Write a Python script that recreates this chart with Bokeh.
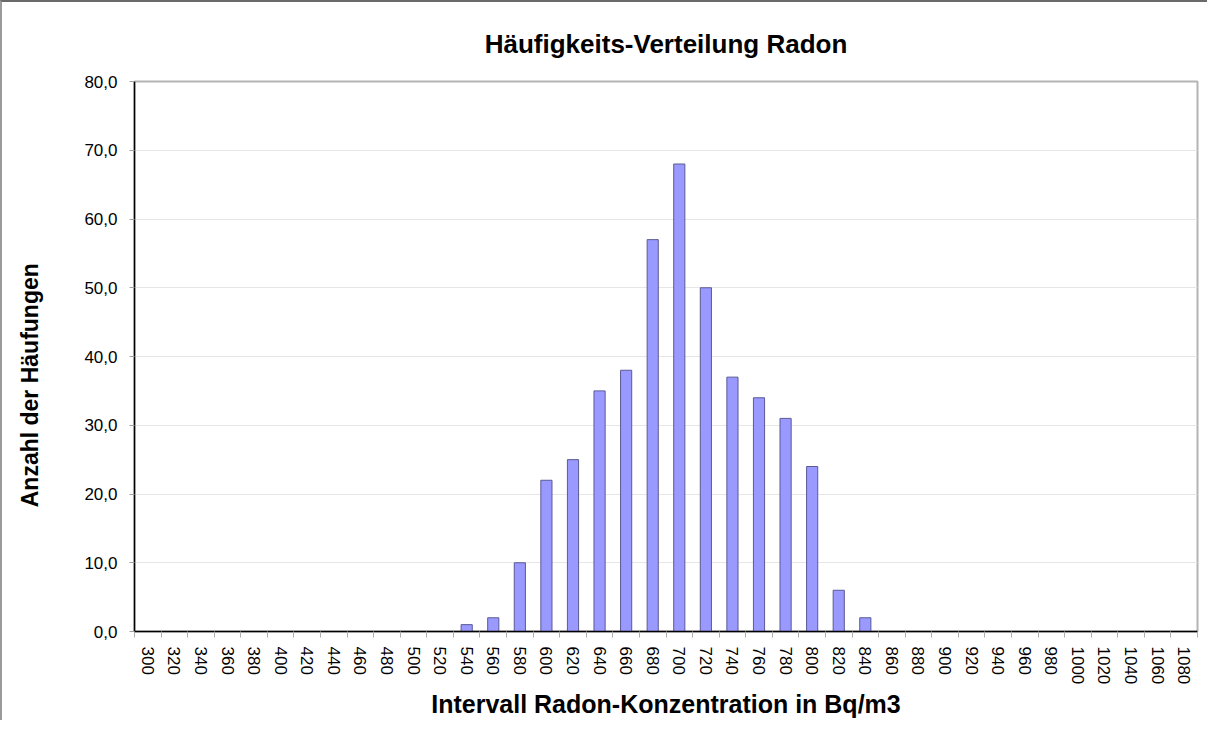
from bokeh.plotting import figure
from bokeh.models import ColumnDataSource, FixedTicker, Range1d
from bokeh.embed import file_html
from bokeh.resources import INLINE

# ---- data ----
categories = [str(v) for v in range(300, 1081, 20)]
counts = [0, 0, 0, 0, 0, 0, 0, 0, 0, 0, 0, 0,
          1, 2, 10, 22, 25, 35, 38, 57, 68, 50, 37, 34, 31, 24, 6, 2,
          0, 0, 0, 0, 0, 0, 0, 0, 0, 0, 0, 0]
y_ticks = [0, 10, 20, 30, 40, 50, 60, 70, 80]
title_text = "Häufigkeits-Verteilung Radon"
x_label = "Intervall Radon-Konzentration in Bq/m3"
y_label = "Anzahl der Häufungen"

FONT = "Liberation Sans"

n = len(categories)
xc = [i + 0.5 for i in range(n)]
src = ColumnDataSource(dict(x=xc, top=counts, cat=categories))

p = figure(width=1207, height=720, output_backend="svg", toolbar_location=None,
           x_range=Range1d(0, n), y_range=Range1d(0, 80),
           min_border_left=132, min_border_right=12, min_border_top=79,
           min_border_bottom=91, title=title_text)
p.styles = {"border-top": "2px solid #6a6a6a", "border-left": "2px solid #9a9a9a"}

p.title.align = "center"
p.title.text_font = FONT
p.title.text_font_size = "26px"
p.title.text_font_style = "bold"
p.title.text_color = "black"
p.title.standoff = 46

p.vbar(x="x", top="top", width=0.42, source=src,
       fill_color="#9999FF", line_color="#5a5a96", line_width=1)

# x axis: labels at centers, tick marks at boundaries
xt = FixedTicker(ticks=xc, minor_ticks=list(range(n + 1)))
p.xaxis.ticker = xt
p.xaxis.major_label_overrides = {x: c for x, c in zip(xc, categories)}
p.xaxis.major_label_orientation = "vertical"
p.xaxis.major_tick_out = 0
p.xaxis.major_tick_in = 0
p.xaxis.minor_tick_out = 6
p.xaxis.minor_tick_in = 0
p.xaxis.minor_tick_line_color = "#b0b0b0"
p.xaxis.axis_line_color = "black"
p.xaxis.axis_line_width = 1.5
p.xaxis.major_label_text_font = FONT
p.xaxis.major_label_text_font_size = "17px"
p.xaxis.major_label_text_color = "black"
p.xaxis.major_label_standoff = 9
p.xaxis.axis_label = x_label
p.xaxis.axis_label_text_font = FONT
p.xaxis.axis_label_text_font_size = "25px"
p.xaxis.axis_label_text_font_style = "bold"
p.xaxis.axis_label_text_color = "black"
p.xaxis.axis_label_standoff = 3

p.yaxis.ticker = FixedTicker(ticks=y_ticks, minor_ticks=[])
p.yaxis.major_label_overrides = {v: f"{v},0" for v in y_ticks}
p.yaxis.major_tick_out = 5
p.yaxis.major_tick_in = 0
p.yaxis.major_tick_line_color = "#a0a0a0"
p.yaxis.axis_line_color = "black"
p.yaxis.axis_line_width = 1.5
p.yaxis.major_label_text_font = FONT
p.yaxis.major_label_text_font_size = "17px"
p.yaxis.major_label_text_color = "black"
p.yaxis.major_label_standoff = 12
# trailing no-break spaces move the centred title a little below the frame centre,
# as in the original
p.yaxis.axis_label = y_label + "\u00a0" * 9
p.yaxis.axis_label_text_font = FONT
p.yaxis.axis_label_text_font_size = "23px"
p.yaxis.axis_label_text_font_style = "bold"
p.yaxis.axis_label_text_color = "black"
p.yaxis.axis_label_standoff = 38

p.xgrid.grid_line_color = None
p.ygrid.grid_line_color = "#e6e6e6"
p.ygrid.ticker = FixedTicker(ticks=y_ticks)
p.outline_line_color = "#b4b4b4"
p.outline_line_width = 2
p.background_fill_color = "white"
p.border_fill_color = "white"

open("out.html", "w").write(file_html(p, INLINE))
